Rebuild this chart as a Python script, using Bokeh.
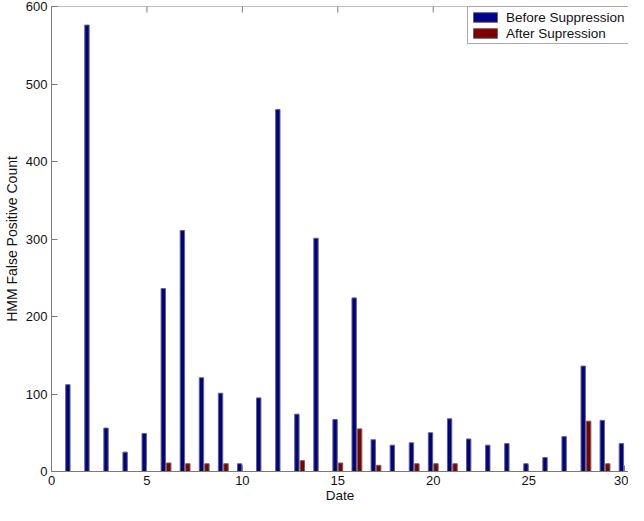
import numpy as np
from bokeh.plotting import figure
from bokeh.models import (ColumnDataSource, Range1d, FixedTicker,
                          Legend, LegendItem, Span)
from bokeh.transform import dodge
from bokeh.embed import file_html
from bokeh.resources import INLINE

# ---- data ----
dates = list(range(1, 31))
before = [112, 576, 56, 25, 49, 236, 311, 121, 101, 10,
          95, 467, 74, 301, 67, 224, 41, 34, 37, 50,
          68, 42, 34, 36, 10, 18, 45, 136, 66, 36]
after = [0, 0, 0, 0, 0, 11, 10, 10, 10, 0,
         0, 0, 14, 0, 11, 55, 8, 0, 10, 10,
         10, 0, 0, 0, 0, 0, 0, 65, 10, 0]
x_ticks = [0, 5, 10, 15, 20, 25, 30]
y_ticks = [0, 100, 200, 300, 400, 500, 600]
series_labels = ["Before Suppression", "After Supression"]

src = ColumnDataSource(dict(date=dates, before=before, after=after))
top_src = ColumnDataSource(dict(x=x_ticks, y=[y_ticks[-1]] * len(x_ticks)))

FONT = "Liberation Sans"
AX = "#7a7a7a"

p = figure(width=628, height=505,
           x_range=Range1d(0, 30.23), y_range=Range1d(0, y_ticks[-1]),
           output_backend="svg", toolbar_location=None,
           min_border_left=47, min_border_right=0,
           min_border_top=6, min_border_bottom=33,
           background_fill_color="white", border_fill_color="white")
p.outline_line_color = None
p.grid.visible = False

bw = 0.229
r1 = p.vbar(x=dodge("date", -0.143, range=p.x_range), top="before", width=bw,
            source=src, fill_color="#00008C", line_color="#666666", line_width=1)
r2 = p.vbar(x=dodge("date", 0.143, range=p.x_range), top="after", width=bw,
            source=src, fill_color="#800000", line_color="#666666", line_width=1)

# top box edge and its inward ticks
p.add_layout(Span(location=y_ticks[-1], dimension="width",
                  line_color=AX, line_width=1))
p.scatter("x", "y", source=top_src, marker="dash", angle=np.pi / 2,
          size=12, line_color=AX, line_width=1)

def style_axis(ax, ticks):
    ax.ticker = FixedTicker(ticks=ticks)
    ax.axis_line_color = AX
    ax.major_tick_line_color = AX
    ax.major_tick_in = 6
    ax.major_tick_out = 0
    ax.minor_tick_line_color = None
    ax.major_label_text_font = FONT
    ax.major_label_text_font_size = "13px"
    ax.major_label_text_color = "#111111"
    ax.axis_label_text_font = FONT
    ax.axis_label_text_font_style = "normal"
    ax.axis_label_text_color = "#111111"

style_axis(p.xaxis[0], x_ticks)
style_axis(p.yaxis[0], y_ticks)
p.xaxis.axis_label = "Date"
p.yaxis.axis_label = "HMM False Positive Count"
p.xaxis.axis_label_text_font_size = "13.5px"
p.yaxis.axis_label_text_font_size = "14px"
p.xaxis.major_label_standoff = 4
p.xaxis.axis_label_standoff = 0
p.yaxis.major_label_standoff = 4
p.yaxis.axis_label_standoff = 3

legend = Legend(items=[LegendItem(label=series_labels[0], renderers=[r1]),
                       LegendItem(label=series_labels[1], renderers=[r2])],
                location=(416, 426.7),
                border_line_color="#555555", background_fill_color="white",
                background_fill_alpha=1.0,
                label_text_font=FONT, label_text_font_size="13.5px",
                label_text_color="#111111",
                glyph_width=30, glyph_height=12, label_height=16,
                label_width=130, label_standoff=6,
                padding=2, spacing=0, margin=0)
p.add_layout(legend, "center")

open("out.html", "w").write(file_html(p, INLINE))
